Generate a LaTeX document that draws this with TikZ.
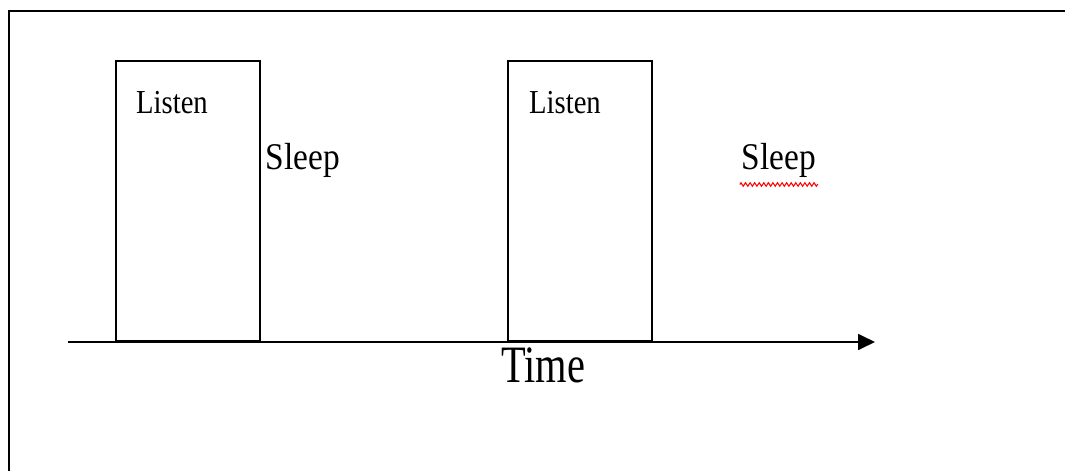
\documentclass[tikz,border=0pt]{standalone}
\usepackage{fontspec}
\setmainfont{Liberation Serif}
\usetikzlibrary{arrows.meta,positioning,decorations.pathmorphing}

% Word-style text is a little taller than it is wide
\newcommand{\tallword}[2]{\scalebox{1}[#1]{#2}}

\begin{document}
\begin{tikzpicture}[
  x=0.02cm, y=-0.02cm,
  frame/.style={draw=black, line width=1.1pt},
  slot/.style={draw=black, line width=1.1pt, minimum width=2.88cm, minimum height=5.6cm,
               inner sep=0pt, anchor=south west},
  axis/.style={draw=black, line width=1.1pt, -{Triangle[length=9.6pt, width=9pt]}},
  small/.style={inner sep=0pt, font=\fontsize{16.3}{18}\selectfont},
  mid/.style={inner sep=0pt, font=\fontsize{19}{21}\selectfont},
  big/.style={inner sep=0pt, font=\fontsize{23}{26}\selectfont},
  spell/.style={draw=red, line width=0.6pt,
                decorate, decoration={zigzag, amplitude=1pt, segment length=2.6pt}}
]
\useasboundingbox (0,0) rectangle (1065,470);

% open frame: only the top and left edges fit on the page
\coordinate (fbl) at (9,472);
\coordinate (ftl) at (9,11);
\coordinate (ftr) at (1067,11);
\draw[frame] (fbl) -- (ftl) -- (ftr);

% time axis
\coordinate (t0) at (68,342);
\coordinate (t1) at (875,342);

% listen windows
\node[slot] (listenA) at (115,342) {};
\node[slot] (listenB) at (507,342) {};
\draw[axis] (t0) -- (t1);

\node[small] (lblA) at (172,103) {\tallword{1.17}{Listen}};
\node[small] (lblB) at (565,103) {\tallword{1.17}{Listen}};

% sleep periods
\node[mid] (sleepA) at (303,160) {\tallword{1.13}{Sleep}};
\node[mid] (sleepB) at (779,160) {\tallword{1.13}{Sleep}};
\draw[spell] ([xshift=-1pt,yshift=-4pt]sleepB.south west) -- ([xshift=1pt,yshift=-4pt]sleepB.south east);

\node[big] (time) at (543,365) {\tallword{1.3}{Time}};
\end{tikzpicture}
\end{document}
